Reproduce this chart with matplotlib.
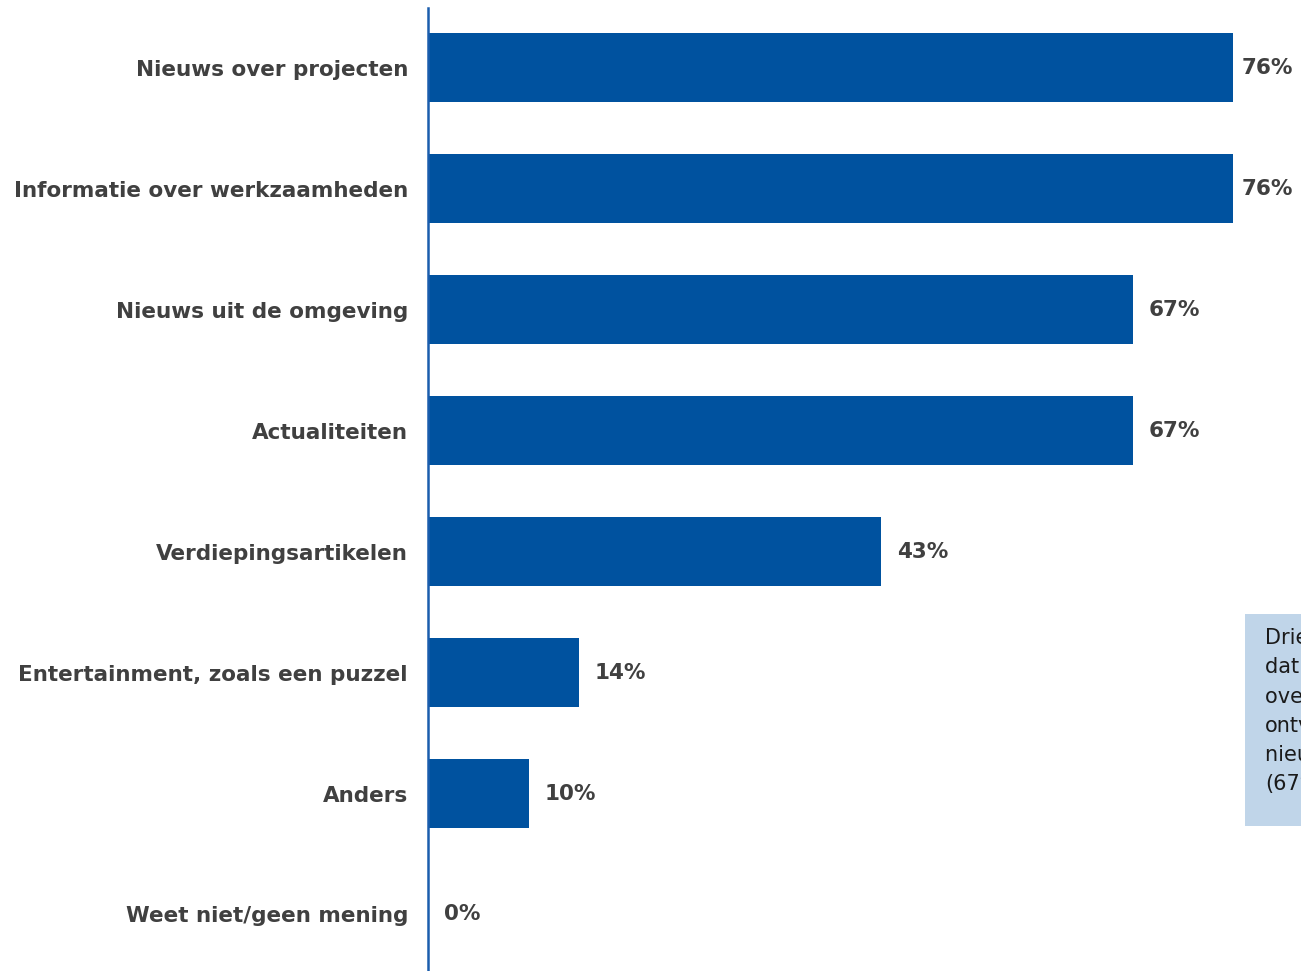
import matplotlib.pyplot as plt

plt.rcParams['font.family'] = ['DejaVu Sans']

categories = [
    'Nieuws over projecten',
    'Informatie over werkzaamheden',
    'Nieuws uit de omgeving',
    'Actualiteiten',
    'Verdiepingsartikelen',
    'Entertainment, zoals een puzzel',
    'Anders',
    'Weet niet/geen mening',
]
# share of respondents (16/21, 16/21, 14/21, ...)
percentages = [76.19, 76.19, 66.67, 66.67, 42.86, 14.29, 9.52, 0.0]
note_lines = ['Driekwart', 'dat ze graag', 'over projecten', 'ontvangen;', 'nieuws uit', '(67%)']

bar_color = '#00529F'
text_color = '#404040'

fig = plt.figure(figsize=(13.01, 9.71), dpi=100)
ax = fig.add_axes([428 / 1301, 0, 873 / 1301, 1 - 8 / 971])

pos = list(range(len(categories)))
ax.barh(pos, percentages, height=0.57, color=bar_color)

ax.set_ylim(len(categories) - 1 + 0.467, -0.492)
ax.set_xlim(0, 82.6)

ax.set_yticks(pos)
ax.set_yticklabels(categories, fontsize=15.5, fontweight='bold', color=text_color)
ax.tick_params(axis='y', length=0, pad=14.4)
ax.set_xticks([])

for side in ['top', 'right', 'bottom']:
    ax.spines[side].set_visible(False)
ax.spines['left'].set_color('#1A5DAD')
ax.spines['left'].set_linewidth(1.8)

top = max(percentages)
for y, v in zip(pos, percentages):
    off = 5.8 if v == top else 11.5
    ax.annotate(f'{v:.0f}%', (v, y), xytext=(off, 0), textcoords='offset points',
                va='center', ha='left', fontsize=15.5, fontweight='bold', color=text_color)

# side note box, runs off the right edge
fig.patches.append(plt.Rectangle((1245 / 1301, 1 - 826 / 971), 0.2, 212 / 971,
                                 transform=fig.transFigure, facecolor='#C0D5E9',
                                 edgecolor='none', zorder=0))
fig.text(1265 / 1301, 1 - 628 / 971, '\n'.join(note_lines), fontsize=15,
         color='#1a1a1a', va='top', ha='left', linespacing=1.58)

plt.savefig('out.png', dpi=100)
